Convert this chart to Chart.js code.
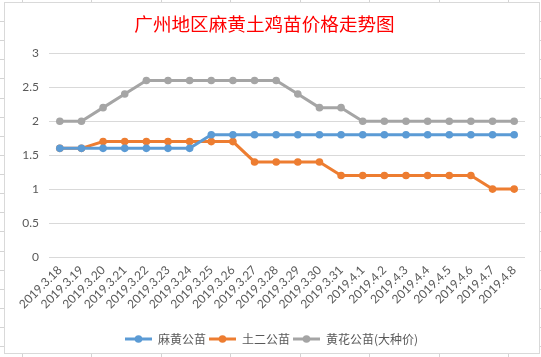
<!DOCTYPE html>
<html>
<head>
<meta charset="utf-8">
<script src="https://cdn.jsdelivr.net/npm/chart.js@4"></script>
<style>
html,body{margin:0;padding:0;background:#fff;}
#wrap{position:relative;width:541px;height:357px;}
</style>
</head>
<body>
<div id="wrap"><canvas id="c" width="541" height="357"></canvas></div>
<script>
const categories = ["2019.3.18","2019.3.19","2019.3.20","2019.3.21","2019.3.22","2019.3.23","2019.3.24","2019.3.25","2019.3.26","2019.3.27","2019.3.28","2019.3.29","2019.3.30","2019.3.31","2019.4.1","2019.4.2","2019.4.3","2019.4.4","2019.4.5","2019.4.6","2019.4.7","2019.4.8"];
const mahuang = [1.6,1.6,1.6,1.6,1.6,1.6,1.6,1.8,1.8,1.8,1.8,1.8,1.8,1.8,1.8,1.8,1.8,1.8,1.8,1.8,1.8,1.8];
const tuer = [1.6,1.6,1.7,1.7,1.7,1.7,1.7,1.7,1.7,1.4,1.4,1.4,1.4,1.2,1.2,1.2,1.2,1.2,1.2,1.2,1.0,1.0];
const huanghua = [2.0,2.0,2.2,2.4,2.6,2.6,2.6,2.6,2.6,2.6,2.6,2.4,2.2,2.2,2.0,2.0,2.0,2.0,2.0,2.0,2.0,2.0];
const seriesNames = ["麻黄公苗","土二公苗","黄花公苗(大种价)"];
const yTicks = [0,0.5,1,1.5,2,2.5,3];
const colors = ["#5B9BD5","#ED7D31","#A5A5A5"];

function legendIcon(color){
  const cv = document.createElement('canvas');
  cv.width = 27; cv.height = 10;
  const g = cv.getContext('2d');
  g.strokeStyle = color; g.lineWidth = 3;
  g.beginPath(); g.moveTo(0,5); g.lineTo(27,5); g.stroke();
  g.fillStyle = color;
  g.beginPath(); g.arc(13.5,5,3.8,0,Math.PI*2); g.fill();
  return cv;
}

const bgPlugin = {
  id:'excelBg',
  beforeDraw(chart){
    const ctx = chart.ctx;
    ctx.save();
    ctx.fillStyle = '#fff';
    ctx.fillRect(0,0,chart.width,chart.height);
    ctx.strokeStyle = '#d4d4d4';
    ctx.lineWidth = 1;
    const cols = [22,91,161,230,300,369,439,508];
    cols.forEach(x=>{ctx.beginPath();ctx.moveTo(x+0.5,0);ctx.lineTo(x+0.5,chart.height);ctx.stroke();});
    for(let y=21; y<chart.height; y+=19.13){
      const yy = Math.round(y)+0.5;
      ctx.beginPath();ctx.moveTo(0,yy);ctx.lineTo(chart.width,yy);ctx.stroke();
    }
    ctx.fillStyle = '#fff';
    ctx.fillRect(4,2,536,352);
    ctx.strokeStyle = '#d9d9d9';
    ctx.strokeRect(4.5,2.5,535,351);
    ctx.restore();
  }
};

const legendShift = {
  id:'legendShift',
  afterLayout(chart){
    const lg = chart.legend;
    if (lg) { lg.left += 7; lg.right += 7; }
  }
};

const mk = (label, data, color) => ({
  label, data,
  borderColor: color, backgroundColor: color,
  borderWidth: 3, pointRadius: 3.8, pointHoverRadius: 4,
  pointBackgroundColor: color, pointBorderColor: color, pointBorderWidth: 0,
  tension: 0, pointStyle: 'circle'
});

const icons = colors.map(legendIcon);

new Chart(document.getElementById('c'), {
  type: 'line',
  data: {
    labels: categories,
    datasets: [
      mk(seriesNames[0], mahuang, colors[0]),
      mk(seriesNames[1], tuer, colors[1]),
      mk(seriesNames[2], huanghua, colors[2])
    ]
  },
  plugins: [bgPlugin, legendShift],
  options: {
    responsive: false,
    animation: false,
    devicePixelRatio: 1,
    layout: { padding: { left: 4, right: 16, top: 2, bottom: 2 } },
    plugins: {
      title: {
        display: true,
        text: '广州地区麻黄土鸡苗价格走势图',
        color: '#FF0000',
        font: { family: '"Noto Sans CJK SC"', size: 18.6, weight: 'normal' },
        padding: { top: 11, bottom: 18 }
      },
      legend: {
        position: 'bottom',
        labels: {
          color: '#595959',
          font: { family: '"Noto Sans CJK SC"', size: 12 },
          usePointStyle: true,
          pointStyleWidth: 27,
          padding: 3,
          generateLabels(chart){
            return chart.data.datasets.map((ds,i)=>({
              text: ds.label, fillStyle: ds.borderColor, strokeStyle: ds.borderColor,
              lineWidth: 0, pointStyle: icons[i], hidden: false, datasetIndex: i, fontColor: '#595959'
            }));
          }
        }
      },
      tooltip: { enabled: false }
    },
    scales: {
      x: {
        offset: true,
        grid: { display: false, drawTicks: false },
        border: { display: false },
        ticks: {
          color: '#595959', autoSkip: false, minRotation: 45, maxRotation: 45,
          font: { family: 'Lato', size: 12 }, padding: 6
        },
        afterFit(scale){ scale.height = 73; }
      },
      y: {
        min: 0, max: 3,
        afterBuildTicks(scale){ scale.ticks = yTicks.map(v=>({value:v})); },
        grid: { color: '#d9d9d9', drawTicks: false, lineWidth: 1 },
        border: { display: false },
        ticks: { color: '#595959', font: { family: 'Lato', size: 12 }, padding: 10,
          callback: v => String(v) },
        afterFit(scale){ scale.width = 45; }
      }
    }
  }
});
</script>
</body>
</html>
